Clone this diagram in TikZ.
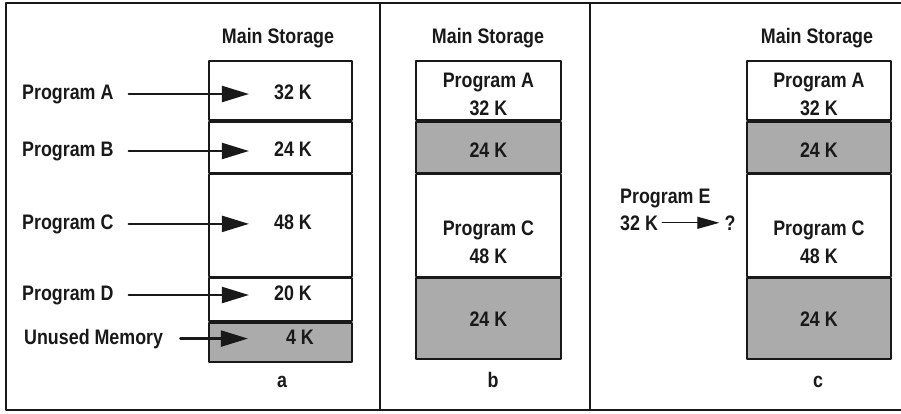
\documentclass[tikz,border=0pt]{standalone}
\usepackage{fontspec}
\setmainfont{Liberation Sans}[FakeStretch=0.85]
\usetikzlibrary{arrows.meta,positioning}

\tikzset{
  txt/.style={font=\fontsize{21}{22}\selectfont\bfseries, text=black!90, inner sep=3pt, anchor=base},
  blk/.style={draw=black!90, line width=1.8pt, minimum width=143pt, inner sep=0pt},
  freeblk/.style={blk, fill=black!33},
  bigarrow/.style={-{Triangle[length=27pt,width=16pt]}, line width=2.2pt, black!90,
    shorten <=12pt, shorten >=22pt},
  smallarrow/.style={-{Triangle[length=22pt,width=12pt]}, line width=1.2pt, black!90}
}

\begin{document}
\begin{tikzpicture}[x=1pt, y=-1pt, line cap=round, line join=round]
  \useasboundingbox (0,0) rectangle (901,413);

  % --- frame and panel dividers ---
  \draw[line width=1.8pt, black!90] (901,3) -- (6,3) -- (6,410) -- (901,410);
  \draw[line width=1.8pt, black!90] (380,3) -- (380,410);
  \draw[line width=1.8pt, black!90] (590,3) -- (590,410);

  % --- a. all partitions in use ---
  \node[txt] (msa) at (278,43) {Main Storage};
  \node[blk, minimum height=59pt, anchor=north west] (a1) at (208,60) {};
  \node[blk, minimum height=51pt, below=0pt of a1] (a2) {};
  \node[blk, minimum height=102pt, below=0pt of a2] (a3) {};
  \node[blk, minimum height=43pt, below=0pt of a3] (a4) {};
  \node[freeblk, minimum height=39pt, below=0pt of a4] (a5) {};

  \foreach \n/\lab/\val/\y in {A/Program A/32 K/99, B/Program B/24 K/156,
                               C/Program C/48 K/229, D/Program D/20 K/300}{
    \node[txt, anchor=base west] (p\n) at (19,\y) {\lab};
    \node[txt] (v\n) at (293,\y) {\val};
    \draw[bigarrow] (p\n.east) -- (p\n.east -| v\n.west);
  }
  \node[txt, anchor=base west] (pU) at (21,344) {Unused Memory};
  \node[txt] (vU) at (300,344) {4 K};
  \draw[bigarrow, shorten <=14pt, shorten >=35pt] (pU.east) -- (pU.east -| vU.west);
  \node[txt] (la) at (282,387) {a};

  % --- b. programs B and D have finished ---
  \node[txt] (msb) at (488,43) {Main Storage};
  \node[blk, minimum width=145pt, minimum height=59pt, anchor=north west] (b1) at (415,60) {};
  \node[freeblk, minimum width=145pt, minimum height=51pt, below=0pt of b1] (b2) {};
  \node[blk, minimum width=145pt, minimum height=102pt, below=0pt of b2] (b3) {};
  \node[freeblk, minimum width=145pt, minimum height=81pt, below=0pt of b3] (b4) {};
  \node[txt] (tb1) at ([yshift=-27pt]b1.north) {Program A};
  \node[txt] (sb1) at ([yshift=-55pt]b1.north) {32 K};
  \node[txt] (tb2) at ([yshift=-37pt]b2.north) {24 K};
  \node[txt] (tb3) at ([yshift=-62pt]b3.north) {Program C};
  \node[txt] (sb3) at ([yshift=-90pt]b3.north) {48 K};
  \node[txt] (tb4) at ([yshift=-49pt]b4.north) {24 K};
  \node[txt] (lb) at (493,387) {b};

  % --- c. program E does not fit ---
  \node[txt] (msc) at (817,43) {Main Storage};
  \node[blk, minimum width=144pt, minimum height=59pt, anchor=north west] (c1) at (746,60) {};
  \node[freeblk, minimum width=144pt, minimum height=51pt, below=0pt of c1] (c2) {};
  \node[blk, minimum width=144pt, minimum height=102pt, below=0pt of c2] (c3) {};
  \node[freeblk, minimum width=144pt, minimum height=81pt, below=0pt of c3] (c4) {};
  \node[txt] (tc1) at ([yshift=-27pt]c1.north) {Program A};
  \node[txt] (sc1) at ([yshift=-55pt]c1.north) {32 K};
  \node[txt] (tc2) at ([yshift=-37pt]c2.north) {24 K};
  \node[txt] (tc3) at ([yshift=-62pt]c3.north) {Program C};
  \node[txt] (sc3) at ([yshift=-90pt]c3.north) {48 K};
  \node[txt] (tc4) at ([yshift=-49pt]c4.north) {24 K};

  \node[txt, anchor=base west] (pE) at (617,203) {Program E};
  \node[txt, anchor=base west] (kE) at (617,230) {32 K};
  \node[txt] (qE) at (730,230) {?};
  \draw[smallarrow, shorten <=1pt, shorten >=2pt] (kE.east) -- (kE.east -| qE.west);
  \node[txt] (lc) at (818,387) {c};
\end{tikzpicture}
\end{document}
